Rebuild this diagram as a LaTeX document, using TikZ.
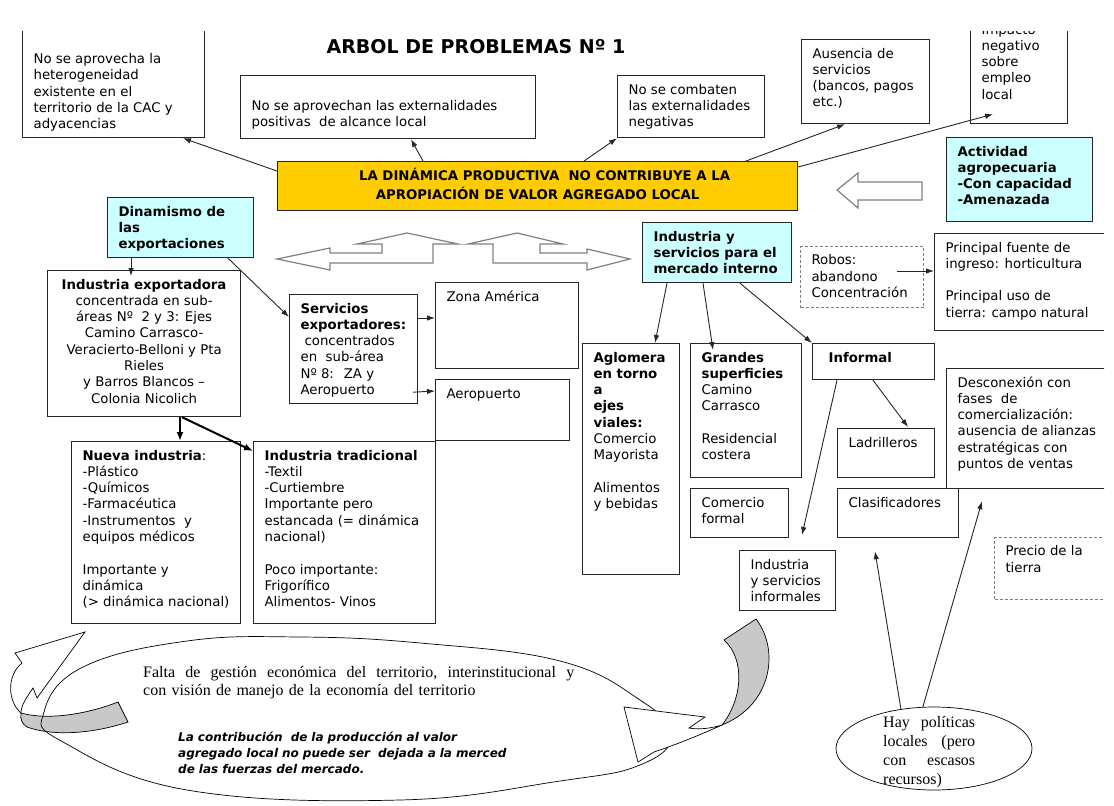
\documentclass[tikz,border=0pt]{standalone}
\usepackage{fontspec}
\setmainfont{DejaVu Sans}
\newfontfamily\timesfont{Liberation Serif}
\usepackage{tikz}
\usetikzlibrary{calc,arrows.meta,shapes.geometric}

\definecolor{probyellow}{HTML}{FFCC00}
\definecolor{keycyan}{HTML}{CCFFFF}
\definecolor{edgegray}{HTML}{262626}
\definecolor{bandgray}{HTML}{C8C8C8}

% text block of a box: [style]{width}{height}{lines}
\newcommand{\boxtext}[4][]{\parbox[t][#3pt][t]{#2pt}{#1\strut#4}}
% one justified line of given width
\newcommand{\fullline}[2]{\leavevmode\hbox to #1pt{#2}}

\begin{document}
\begin{tikzpicture}[x=1pt,y=-1pt]

\useasboundingbox (0,0) rectangle (1114,806);
\clip (0,31) rectangle (1104,806);

\tikzstyle{mybox} = [draw=edgegray, line width=1.2pt, anchor=north west, inner xsep=11pt, inner ysep=7pt, font=\fontsize{13.3}{16.3}\selectfont]
\tikzstyle{keybox} = [mybox, fill=keycyan]
\tikzstyle{dashbox} = [mybox, draw=gray, line width=1pt, dash pattern=on 3pt off 2pt]
\tikzstyle{conn} = [-{Latex[length=8pt,width=5.5pt]}, line width=0.9pt, edgegray]
\tikzstyle{fatconn} = [-{Latex[length=9pt,width=7pt]}, line width=2pt, black]
\tikzstyle{hollow} = [draw=gray, line width=1.2pt, fill=white]
\tikzstyle{ribbon} = [draw=black, line width=0.7pt]

% top row
\node[font=\fontsize{19}{22}\selectfont\bfseries] (title) at (476,47) {ARBOL DE PROBLEMAS Nº 1};
\node[mybox] (het) at (22,12) {\boxtext{160}{111}{~\\~\\No se aprovecha la\\heterogeneidad\\existente en el\\territorio de la CAC y\\adyacencias}};
\node[mybox] (posit) at (240,75) {\boxtext{273}{49}{~\\No se aprovechan las externalidades\\positivas \ de alcance local}};
\node[mybox] (negat) at (617,75) {\boxtext{125}{48}{No se combaten\\las externalidades\\negativas}};
\node[mybox] (ausen) at (801,39) {\boxtext{106}{70}{Ausencia de\\servicios\\(bancos, pagos\\etc.)}};
\node[mybox] (impac) at (970,15) {\boxtext{75}{94}{Impacto\\negativo\\sobre\\empleo\\local}};

% central problem
\node[mybox, fill=probyellow] (prob) at (277,161) {\boxtext[\centering\bfseries]{498}{35}{\hspace*{14pt}LA DINÁMICA PRODUCTIVA \ NO CONTRIBUYE A LA\\APROPIACIÓN DE VALOR AGREGADO LOCAL}};
\node[keybox] (activ) at (946,137) {\boxtext[\bfseries]{124}{70}{Actividad\\agropecuaria\\-Con capacidad\\-Amenazada}};
\draw[hollow] (837,190) -- (858,173) -- (858,182) -- (922,182) -- (922,200) -- (858,200) -- (858,208) -- cycle;

% exports branch
\node[keybox] (dinam) at (107,197) {\boxtext[\bfseries]{124}{46}{Dinamismo de\\las\\exportaciones}};
\node[mybox] (indexp) at (47,270) {\boxtext[\centering]{171}{132}{\textbf{Industria exportadora}\\concentrada en sub-\\áreas Nº \ 2 y 3: Ejes\\Camino Carrasco-\\Veracierto-Belloni y Pta\\Rieles\\y Barros Blancos –\\Colonia Nicolich}};
\node[mybox] (servx) at (289,294) {\boxtext{106}{95}{\textbf{Servicios}\\\textbf{exportadores:}\\\hspace*{4pt}concentrados\\en \ sub-área\\Nº 8: \ ZA y\\Aeropuerto}};
\node[mybox] (zona) at (435,282) {\boxtext{121}{72}{Zona América}};
\node[mybox] (aerop) at (435,379) {\boxtext{112}{47}{Aeropuerto}};
\node[mybox] (nueva) at (71,441) {\boxtext{147}{168}{\textbf{Nueva industria}:\\-Plástico\\-Químicos\\-Farmacéutica\\-Instrumentos \ y\\equipos médicos\\~\\Importante y\\dinámica\\(> dinámica nacional)}};
\node[mybox] (tradi) at (253,441) {\boxtext{160}{168}{\textbf{Industria tradicional}\\-Textil\\-Curtiembre\\Importante pero\\estancada (= dinámica\\nacional)\\~\\Poco importante:\\Frigorífico\\Alimentos- Vinos}};

% internal market branch
\node[keybox] (indint) at (642,222) {\boxtext[\bfseries]{127}{46}{Industria y\\servicios para el\\mercado interno}};
\node[mybox] (aglom) at (582,343) {\boxtext{75}{217}{{\bfseries Aglomera\\en torno\\a\\ejes\\viales:}\\Comercio\\Mayorista\\~\\Alimentos\\y bebidas}};
\node[mybox] (grand) at (690,343) {\boxtext{89}{120}{{\bfseries Grandes\\superficies}\\Camino\\Carrasco\\~\\Residencial\\costera}};
\node[mybox] (comfo) at (690,488) {\boxtext{76}{35}{Comercio\\formal}};
\node[dashbox] (robos) at (800,246) {\boxtext{101}{47}{Robos:\\abandono\\Concentración}};
\node[mybox] (princ) at (934,233) {\boxtext{158}{83}{Principal fuente de\\ingreso: horticultura\\~\\Principal uso de\\tierra: campo natural}};
\node[mybox] (inform) at (812,343) {\boxtext{100}{22}{\hspace*{5pt}\textbf{Informal}}};
\node[mybox] (ladri) at (837,428) {\boxtext{75}{35}{Ladrilleros}};
\node[mybox] (desco) at (946,368) {\boxtext{148}{106}{Desconexión con\\fases \ de\\comercialización:\\ausencia de alianzas\\estratégicas con\\puntos de ventas}};
\node[mybox] (clasi) at (837,488) {\boxtext{99}{35}{Clasificadores}};
\node[mybox] (infor2) at (739,550) {\boxtext{74}{46}{Industria\\y servicios\\informales}};
\node[dashbox] (precio) at (994,537) {\boxtext{108}{48}{Precio de la\\tierra}};

% double arrows between the two branches
\draw[hollow] (277,259) -- (330,248) -- (330,253) -- (382,253) -- (382,244) -- (357,244) -- (407,233) -- (458,244) -- (433,244) -- (433,263) -- (330,263) -- (330,270) -- cycle;
\draw[hollow] (468,244) -- (517,233) -- (563,244) -- (540,244) -- (540,253) -- (587,253) -- (587,249) -- (630,259) -- (587,270) -- (587,263) -- (493,263) -- (493,244) -- cycle;

% bottom: management ellipse with curved arrows
\draw[ribbon, fill=white] (22,663) -- (15,653) -- (85,632) -- (37,698) -- (33,688) .. controls (27,697) and (21,705) .. (21,713) .. controls (8,702) and (6,676) .. (22,663) -- cycle;
\draw[ribbon, fill=bandgray] (21,713) .. controls (50,721) and (90,713) .. (118,702) -- (128,722) .. controls (95,733) and (55,737) .. (27,727) .. controls (22,724) and (20,719) .. (21,713) -- cycle;
\draw[ribbon] plot[smooth cycle, tension=0.7] coordinates {(44,712) (83,667) (187,641) (300,637) (420,643) (560,661) (640,700) (672,735) (640,765) (560,781) (400,800) (187,790) (63,742)};
\draw[ribbon, fill=bandgray] (724,640) -- (756,619) .. controls (780,650) and (772,705) .. (722,725) .. controls (742,700) and (746,660) .. (724,640) -- cycle;
\draw[ribbon, fill=white] (624,707) -- (705,717) -- (689,728) .. controls (700,730) and (712,728) .. (722,725) .. controls (700,735) and (675,745) .. (654,752) -- (638,762) -- cycle;

\node[anchor=base west, inner sep=0, text width=440pt, font=\timesfont\fontsize{16}{18}\selectfont] (gest) at (143,677) {\fullline{431}{Falta\hfil de\hfil gestión\hfil económica\hfil del\hfil territorio,\hfil interinstitucional\hfil y}\\con visión de manejo de la economía del territorio};
\node[anchor=base west, inner sep=0, text width=380pt, font=\fontsize{12}{16}\selectfont\bfseries\itshape] (merc) at (178,741) {La contribución \ de la producción al valor\\agregado local no puede ser \ dejada a la merced\\de las fuerzas del mercado.};

\node[ellipse, draw=black, line width=0.7pt, minimum width=196pt, minimum height=83pt, inner sep=0] (hay) at (934,748.5) {};
\node[anchor=base west, inner sep=0, text width=92pt, font=\timesfont\fontsize{16}{19}\selectfont] (haytxt) at ($(hay.center)+(-51,-21)$) {\fullline{92}{Hay\hfil políticas}\\\fullline{92}{locales\hfil (pero}\\\fullline{92}{con\hfil escasos}\\recursos)};

% connectors
\coordinate (infotip) at ($(infor2.north west)+(63,-15)$);
\coordinate (hayl) at ($(clasi.south west)+(38,13)$);
\coordinate (hayr) at ($(desco.south west)+(36,12)$);

\draw[conn] ($(prob.north west)+(0,10)$) -- ($(het.south west)+(161,0)$);
\draw[conn] ($(prob.north west)+(146,0)$) -- ($(posit.south west)+(171,0)$);
\draw[conn] ($(prob.north west)+(307,0)$) -- (negat.south west);
\draw[conn] ($(prob.north west)+(469,0)$) -- ($(ausen.south west)+(44,0)$);
\draw[conn] ($(prob.north east)+(0,6)$) -- ($(impac.south west)+(23,-10)$);
\draw[conn] ($(dinam.south west)+(24,0)$) -- ($(indexp.north west)+(84,6)$);
\draw[conn] ($(dinam.south west)+(121,0)$) -- ($(servx.north west)+(0,23)$);
\draw[conn] ($(servx.north east)+(0,24)$) -- ($(zona.north west)+(0,36)$);
\draw[conn] ($(servx.south east)+(-5,-12)$) -- ($(aerop.north west)+(0,12)$);
\draw[fatconn] ($(indexp.south west)+(133,0)$) -- ($(nueva.north west)+(109,0)$);
\draw[fatconn] ($(indexp.south west)+(135,0)$) -- ($(tradi.north west)+(0,10)$);
\draw[conn] ($(indint.south west)+(25,0)$) -- ($(aglom.north west)+(73,0)$);
\draw[conn] ($(indint.south west)+(61,0)$) -- ($(grand.north west)+(23,7)$);
\draw[conn] ($(indint.south west)+(98,0)$) -- (inform.north west);
\draw[conn] ($(inform.south west)+(25,0)$) -- (infotip);
\draw[conn] ($(inform.south west)+(61,0)$) -- ($(ladri.north west)+(71,-1)$);
\draw[conn] ($(robos.north west)+(97,25)$) -- ($(princ.north west)+(0,38)$);
\draw[conn] (hay.130) -- (hayl);
\draw[conn] (hay.105) -- (hayr);

\end{tikzpicture}
\end{document}
